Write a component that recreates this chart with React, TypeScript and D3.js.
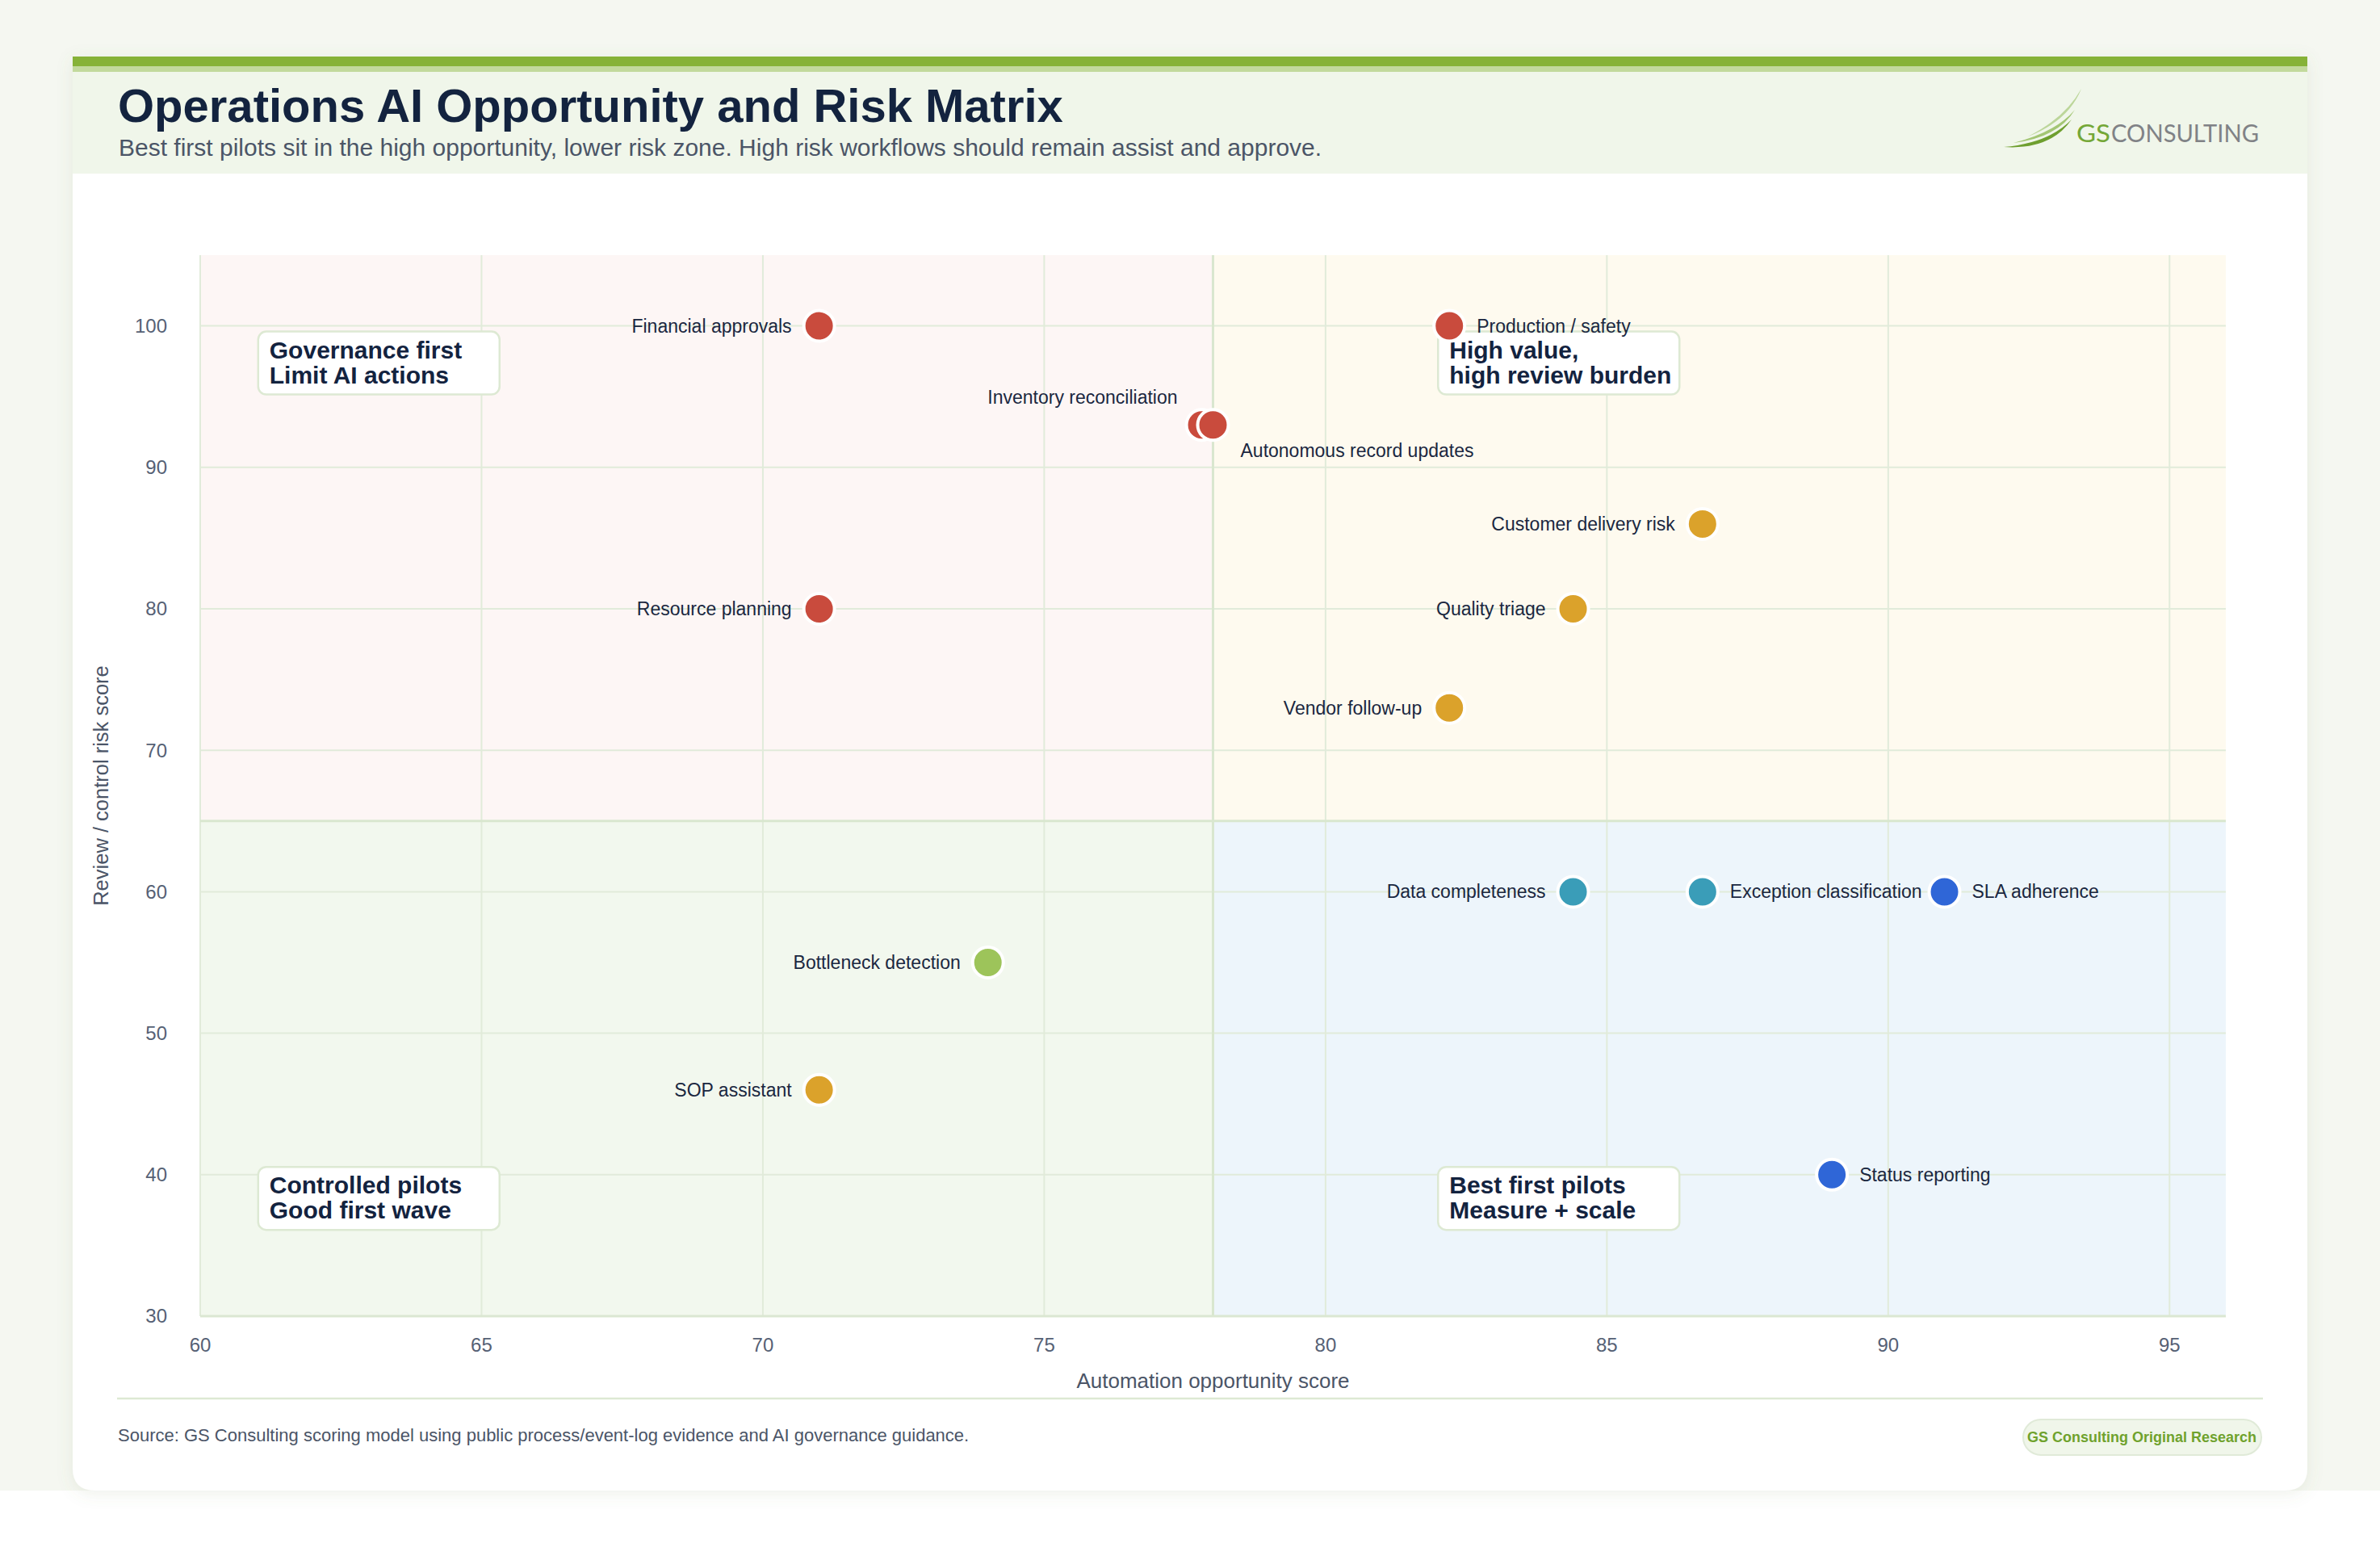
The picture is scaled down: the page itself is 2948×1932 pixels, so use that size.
import * as d3 from 'd3';

// workflow scores
const workflows = [
  'Financial approvals',
  'Production / safety',
  'Inventory reconciliation',
  'Autonomous record updates',
  'Customer delivery risk',
  'Quality triage',
  'Vendor follow-up',
  'Resource planning',
  'Data completeness',
  'Exception classification',
  'SLA adherence',
  'Bottleneck detection',
  'SOP assistant',
  'Status reporting',
];
const automationScore = [71, 82.2, 77.8, 78, 86.7, 84.4, 82.2, 71, 84.4, 86.7, 91, 74, 71, 89];
const riskScore = [100, 100, 93, 93, 86, 80, 73, 80, 60, 60, 60, 55, 46, 40];
const workflowGroup = [
  'control', 'control', 'control', 'control',
  'review', 'review', 'review', 'control',
  'data', 'data', 'tracking', 'insight', 'review', 'tracking',
];

const xTicks = [60, 65, 70, 75, 80, 85, 90, 95];
const yTicks = [30, 40, 50, 60, 70, 80, 90, 100];
const xDomain = [60, 96];
const yDomain = [30, 105];
const splitX = 78;
const splitY = 65;

const quadrantNotes = [
  { lines: ['Governance first', 'Limit AI actions'], x: 61.03, y: 99.6 },
  { lines: ['High value,', 'high review burden'], x: 82, y: 99.6 },
  { lines: ['Controlled pilots', 'Good first wave'], x: 61.03, y: 40.55 },
  { lines: ['Best first pilots', 'Measure + scale'], x: 82, y: 40.55 },
];

const groupColor: Record<string, string> = {
  control: '#c94b3d',
  review: '#dba22b',
  data: '#3a9db8',
  tracking: '#2f66d7',
  insight: '#9dc45a',
};

// where each label sits relative to its dot
const labelPlacement: Record<string, string> = {
  'Financial approvals': 'left',
  'Production / safety': 'right',
  'Inventory reconciliation': 'upLeft',
  'Autonomous record updates': 'downRight',
  'Customer delivery risk': 'left',
  'Quality triage': 'left',
  'Vendor follow-up': 'left',
  'Resource planning': 'left',
  'Data completeness': 'left',
  'Exception classification': 'right',
  'SLA adherence': 'right',
  'Bottleneck detection': 'left',
  'SOP assistant': 'left',
  'Status reporting': 'right',
};

const W = 2948;
const H = 1932;
const FONT = '"Liberation Sans", Arial, Helvetica, sans-serif';
const NAVY = '#13233f';
const SLATE = '#4b5567';
const GRID = '#e1ebda';

const card = { x0: 90, x1: 2858, y0: 70, y1: 1846, r: 28 };
const plot = { left: 248, right: 2757, top: 316, bottom: 1630 };

export default function App() {
  const x = d3.scaleLinear().domain(xDomain).range([plot.left, plot.right]);
  const y = d3.scaleLinear().domain(yDomain).range([plot.bottom, plot.top]);

  const points = workflows.map((name, i) => ({
    name,
    ax: automationScore[i],
    ry: riskScore[i],
    color: groupColor[workflowGroup[i]],
  }));

  const quads = [
    { x0: xDomain[0], x1: splitX, y0: splitY, y1: yDomain[1], fill: '#fdf6f5' },
    { x0: splitX, x1: xDomain[1], y0: splitY, y1: yDomain[1], fill: '#fefaef' },
    { x0: xDomain[0], x1: splitX, y0: yDomain[0], y1: splitY, fill: '#f2f8ee' },
    { x0: splitX, x1: xDomain[1], y0: yDomain[0], y1: splitY, fill: '#edf5fb' },
  ];

  const cardPath = `M${card.x0},${card.y0} H${card.x1} V${card.y1 - card.r} Q${card.x1},${card.y1} ${card.x1 - card.r},${card.y1} H${card.x0 + card.r} Q${card.x0},${card.y1} ${card.x0},${card.y1 - card.r} Z`;

  const labelPos = (p: { ax: number; ry: number; name: string }) => {
    const cx = x(p.ax);
    const cy = y(p.ry);
    switch (labelPlacement[p.name]) {
      case 'right':
        return { tx: cx + 34, ty: cy, anchor: 'start' };
      case 'upLeft':
        return { tx: cx - 30, ty: cy - 34, anchor: 'end' };
      case 'downRight':
        return { tx: cx + 34, ty: cy + 32, anchor: 'start' };
      default:
        return { tx: cx - 34, ty: cy, anchor: 'end' };
    }
  };

  return (
    <div style={{ position: 'absolute', left: 0, top: 0 }}>
      <svg width={W} height={H} style={{ display: 'block' }}>
        <defs>
          <filter id="cardShadow" x="-5%" y="-5%" width="110%" height="110%">
            <feDropShadow dx="0" dy="4" stdDeviation="10" floodColor="#6f8a55" floodOpacity="0.12" />
          </filter>
        </defs>
        <rect x={0} y={0} width={W} height={H} fill="#ffffff" />
        <rect x={0} y={0} width={W} height={card.y1} fill="#f5f7f1" />

        {/* card */}
        <path d={cardPath} fill="#ffffff" filter="url(#cardShadow)" />
        <rect x={card.x0} y={89} width={card.x1 - card.x0} height={126} fill="#f0f6ea" />
        <rect x={card.x0} y={70} width={card.x1 - card.x0} height={12} fill="#86b237" />
        <rect x={card.x0} y={82} width={card.x1 - card.x0} height={7} fill="#c2d99c" />

        <text x={146} y={151} fontFamily={FONT} fontSize={58} fontWeight={700} fill={NAVY}>
          Operations AI Opportunity and Risk Matrix
        </text>
        <text x={147} y={193} fontFamily={FONT} fontSize={30} fill={SLATE}>
          Best first pilots sit in the high opportunity, lower risk zone. High risk workflows should remain assist and approve.
        </text>

        {/* logo */}
        <g>
          <path d="M2512,169 Q2562,150 2578,110 Q2558,146 2512,169 Z" fill="#bcd69a" />
          <path d="M2494,177 Q2550,170 2570,136 Q2546,164 2494,177 Z" fill="#a3c674" />
          <path d="M2482,182 Q2540,186 2566,148 Q2538,177 2482,182 Z" fill="#6e9f2f" />
          <text x={2572} y={176} fontFamily="Lato, 'Open Sans', sans-serif" fontSize={30.5} fill="#74a737" textLength={42} lengthAdjust="spacingAndGlyphs">
            GS
          </text>
          <text x={2615} y={176} fontFamily="Lato, 'Open Sans', sans-serif" fontSize={30.5} fill="#808286" textLength={183} lengthAdjust="spacingAndGlyphs">
            CONSULTING
          </text>
        </g>

        {/* quadrants */}
        {quads.map((q, i) => (
          <rect
            key={i}
            x={x(q.x0)}
            y={y(q.y1)}
            width={x(q.x1) - x(q.x0)}
            height={y(q.y0) - y(q.y1)}
            fill={q.fill}
          />
        ))}

        {/* grid */}
        {xTicks.map((t) => (
          <line key={'gx' + t} x1={x(t)} x2={x(t)} y1={plot.top} y2={plot.bottom} stroke={GRID} strokeWidth={2} />
        ))}
        {yTicks.map((t) => (
          <line key={'gy' + t} x1={plot.left} x2={plot.right} y1={y(t)} y2={y(t)} stroke={GRID} strokeWidth={2} />
        ))}
        <line x1={x(splitX)} x2={x(splitX)} y1={plot.top} y2={plot.bottom} stroke="#d9e7cf" strokeWidth={3} />
        <line x1={plot.left} x2={plot.right} y1={y(splitY)} y2={y(splitY)} stroke="#d9e7cf" strokeWidth={3} />
        <line x1={plot.left} x2={plot.right} y1={plot.bottom} y2={plot.bottom} stroke="#dbe7d2" strokeWidth={3} />

        {/* ticks */}
        {xTicks.map((t) => (
          <text key={'tx' + t} x={x(t)} y={1674} textAnchor="middle" fontFamily={FONT} fontSize={24} fill="#566175">
            {t}
          </text>
        ))}
        {yTicks.map((t) => (
          <text key={'ty' + t} x={207} y={y(t)} dy="0.35em" textAnchor="end" fontFamily={FONT} fontSize={24} fill="#566175">
            {t}
          </text>
        ))}
        <text x={(plot.left + plot.right) / 2} y={1719} textAnchor="middle" fontFamily={FONT} fontSize={26} fill={SLATE}>
          Automation opportunity score
        </text>
        <text
          transform={`translate(134,${(plot.top + plot.bottom) / 2}) rotate(-90)`}
          textAnchor="middle"
          fontFamily={FONT}
          fontSize={25.5}
          fill={SLATE}
        >
          Review / control risk score
        </text>

        {/* quadrant notes */}
        {quadrantNotes.map((n, i) => {
          const bx = x(n.x);
          const by = y(n.y);
          return (
            <g key={'q' + i}>
              <rect x={bx} y={by} width={299} height={78} rx={10} fill="#ffffff" stroke="#dde9d3" strokeWidth={2.5} />
              {n.lines.map((l, j) => (
                <text key={j} x={bx + 14} y={by + 33 + j * 31} fontFamily={FONT} fontSize={30} fontWeight={700} fill={NAVY}>
                  {l}
                </text>
              ))}
            </g>
          );
        })}

        {/* workflows */}
        {points.map((p) => (
          <circle key={'c' + p.name} cx={x(p.ax)} cy={y(p.ry)} r={19} fill={p.color} stroke="#ffffff" strokeWidth={4} />
        ))}
        {points.map((p) => {
          const { tx, ty, anchor } = labelPos(p);
          return (
            <text key={'l' + p.name} x={tx} y={ty} dy="0.35em" textAnchor={anchor} fontFamily={FONT} fontSize={23} fill="#1a2740">
              {p.name}
            </text>
          );
        })}

        {/* footer */}
        <line x1={145} x2={2803} y1={1732} y2={1732} stroke="#dde9d3" strokeWidth={2.5} />
        <text x={146} y={1785} fontFamily={FONT} fontSize={22} fill={SLATE}>
          Source: GS Consulting scoring model using public process/event-log evidence and AI governance guidance.
        </text>
        <rect x={2506} y={1758} width={295} height={44} rx={22} fill="#f0f6ea" stroke="#e0ead8" strokeWidth={2} />
        <text x={2653} y={1786} textAnchor="middle" fontFamily={FONT} fontSize={18} fontWeight={700} fill="#6fa22d">
          GS Consulting Original Research
        </text>
      </svg>
    </div>
  );
}
